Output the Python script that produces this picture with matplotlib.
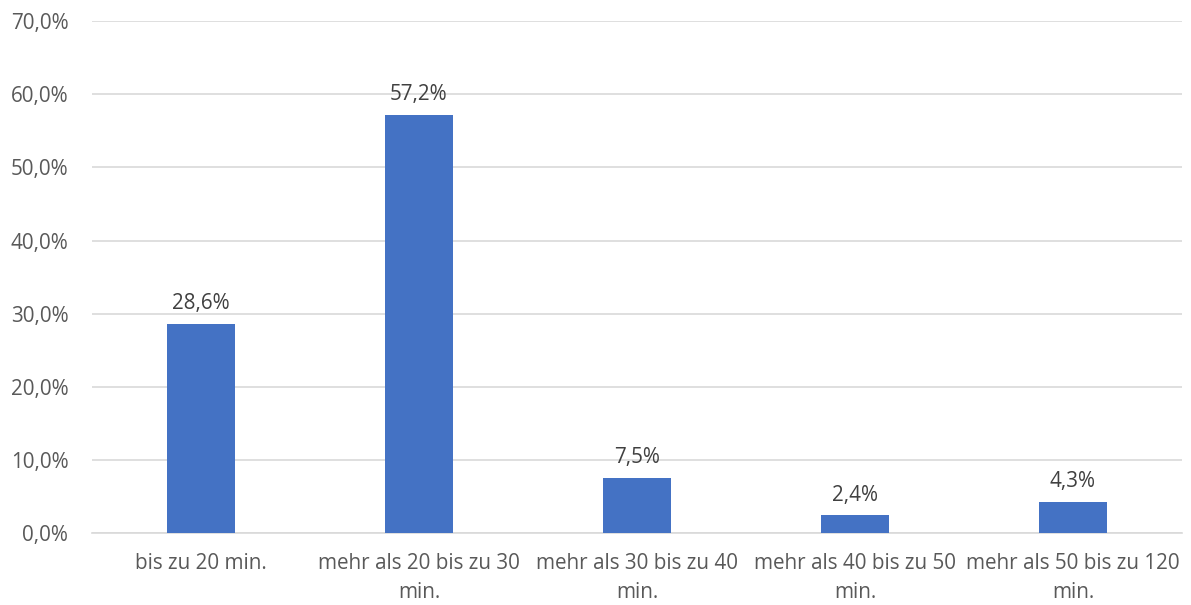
import matplotlib
matplotlib.use("Agg")
import matplotlib.pyplot as plt
from matplotlib.ticker import FuncFormatter

categories = [
    "bis zu 20 min.",
    "mehr als 20 bis zu 30\nmin.",
    "mehr als 30 bis zu 40\nmin.",
    "mehr als 40 bis zu 50\nmin.",
    "mehr als 50 bis zu 120\nmin.",
]
values = [28.6, 57.2, 7.5, 2.4, 4.3]
y_ticks = [0, 10, 20, 30, 40, 50, 60, 70]

text_color = "#595959"
bar_color = "#4472C4"
grid_color = "#D9D9D9"
font_size = 14.9

plt.rcParams["font.family"] = ["Open Sans", "DejaVu Sans"]

fig = plt.figure(figsize=(11.91, 6.05), dpi=100)
ax = fig.add_axes([0.0772, 0.119, 0.9152, 0.846])

x = range(len(categories))
ax.bar(x, values, width=0.31, color=bar_color, zorder=3)

for xi, v in zip(x, values):
    ax.annotate(f"{v:.1f}%".replace(".", ","), (xi, v), xytext=(0, 7),
                textcoords="offset points", ha="center", va="bottom",
                fontsize=font_size, color="#404040")

ax.set_xlim(-0.5, len(categories) - 0.5)
ax.set_ylim(0, 70)
ax.set_yticks(y_ticks)
ax.yaxis.set_major_formatter(FuncFormatter(lambda v, p: f"{v:.1f}%".replace(".", ",")))
ax.set_xticks(list(x))
ax.set_xticklabels(categories, linespacing=1.5, va="top")

ax.grid(axis="y", color=grid_color, linewidth=1.2, zorder=0)
for side in ["top", "right", "left"]:
    ax.spines[side].set_visible(False)
ax.spines["bottom"].set_color(grid_color)
ax.spines["bottom"].set_linewidth(1.2)

ax.tick_params(axis="both", length=0, labelsize=font_size, colors=text_color)
ax.tick_params(axis="y", pad=17)
ax.tick_params(axis="x", pad=14.5)

fig.savefig("out.png", dpi=100, facecolor="white")
